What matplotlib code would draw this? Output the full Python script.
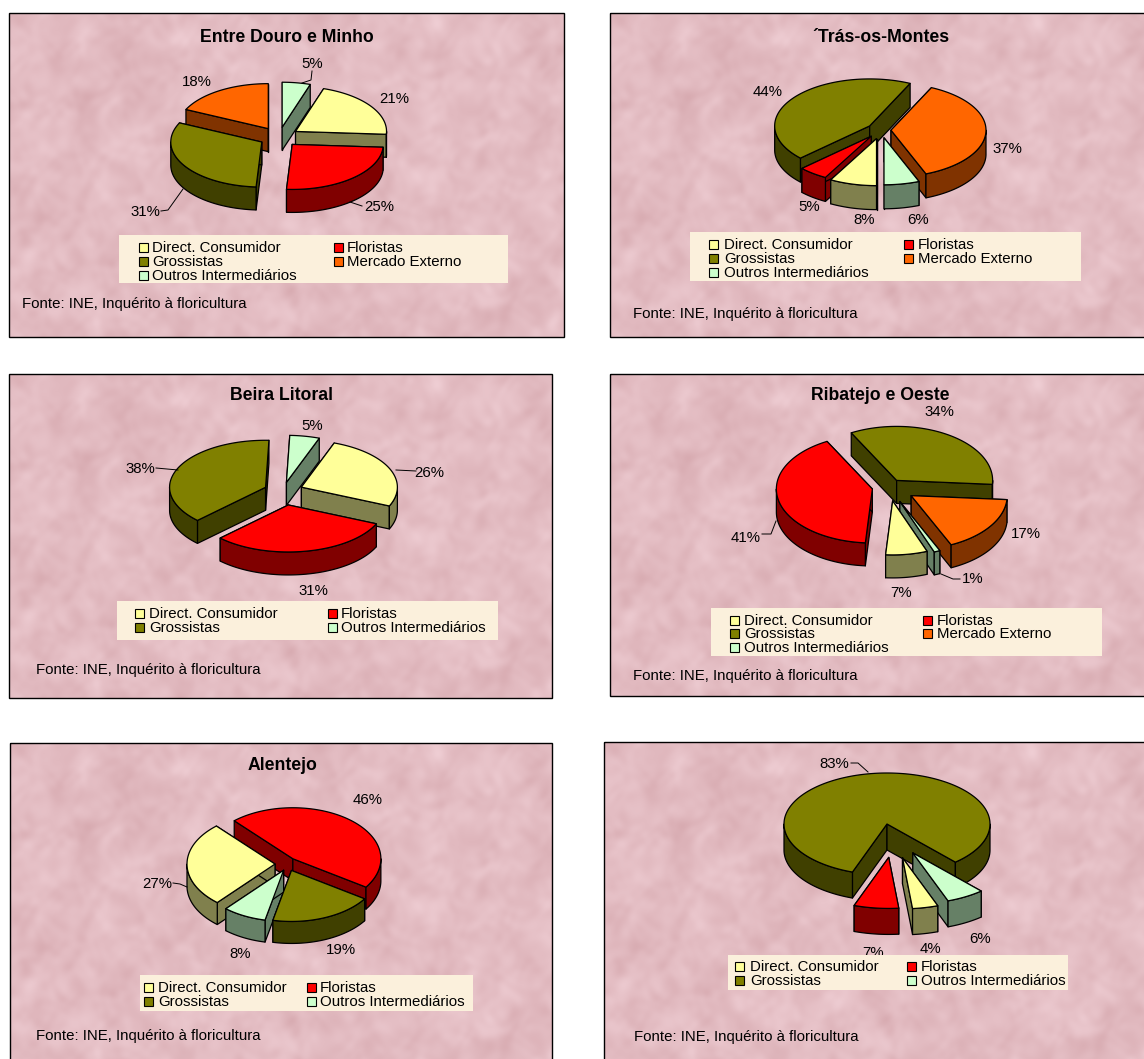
#!/usr/bin/env python3
import numpy as np
import matplotlib
matplotlib.use("Agg")
import matplotlib.pyplot as plt
from matplotlib.patches import Polygon, Rectangle

plt.rcParams["font.family"] = ["Liberation Sans", "DejaVu Sans"]

# categories
DIRECT, FLOR, GROS, MERC, OUTROS = (
    "Direct. Consumidor", "Floristas", "Grossistas", "Mercado Externo", "Outros Intermediários",
)
TOP_C = {DIRECT: "#FFFF99", FLOR: "#FF0000", GROS: "#808000", MERC: "#FF6600", OUTROS: "#CCFFCC"}
WALL_C = {DIRECT: "#80804D", FLOR: "#800000", GROS: "#404000", MERC: "#803300", OUTROS: "#668066"}

CATS_5 = [DIRECT, FLOR, GROS, MERC, OUTROS]
CATS_4 = [DIRECT, FLOR, GROS, OUTROS]

# percentagens
VALS_MINHO = [21, 25, 31, 18, 5]
VALS_TRAS = [8, 5, 44, 37, 6]
VALS_BEIRA = [26, 31, 38, 5]
VALS_RIBATEJO = [7, 41, 34, 17, 1]
VALS_ALENTEJO = [27, 46, 19, 8]
VALS_ALGARVE = [4, 7, 83, 6]

SOURCE = "Fonte: INE, Inquérito à floricultura"

# layout em pixels da imagem
PANELS = [
    dict(title="Entre Douro e Minho", cats=CATS_5, vals=VALS_MINHO, box=(9, 13, 564, 337),
         title_xy=(287, 36), start=18, c=(279, 137), rx=91, ry=45, depth=23,
         explode=[20, 20, 20, 20, 20],
         lab=[(394, 98), (379, 206), (145, 211), (197, 81), (312, 63)],
         lead=[[(312, 71), (311, 80), (302, 83)], [(362, 206), (350, 202)], [(161, 211), (168, 210), (183, 189)]],
         leg=(119, 235, 508, 283), mx=(139, 334), tx=(152, 347), rows=(247, 261, 275), src=(22, 303)),
    dict(title="´Trás-os-Montes", cats=CATS_5, vals=VALS_TRAS, box=(610, 13, 1150, 337),
         title_xy=(881, 36), start=180, c=(881, 130), rx=95, ry=47, depth=24,
         explode=[18, 16, 14, 10, 16],
         lab=[(864, 219), (809, 206), (768, 91), (1007, 148), (918, 219)],
         lead=[],
         leg=(690, 232, 1081, 281), mx=(709, 904), tx=(724, 918), rows=(244, 258, 272), src=(633, 313)),
    dict(title="Beira Litoral", cats=CATS_4, vals=VALS_BEIRA, box=(9, 374, 552, 698),
         title_xy=(281, 395), start=20, c=(283, 491), rx=96, ry=47, depth=23,
         explode=[20, 29, 19, 18],
         lab=[(429, 472), (313, 590), (140, 468), (312, 425)],
         lead=[[(416, 471), (396, 470)], [(156, 468), (178, 470)]],
         leg=(117, 601, 498, 640), mx=(135, 328), tx=(149, 341), rows=(613, 627), src=(36, 669)),
    dict(title="Ribatejo e Oeste", cats=CATS_5, vals=VALS_RIBATEJO, box=(610, 374, 1150, 696),
         title_xy=(880, 395), start=159, c=(889, 487), rx=96, ry=54, depth=23,
         explode=[25, 17, 14, 27, 28],
         lab=[(901, 592), (746, 537), (939, 411), (1026, 533), (973, 578)],
         lead=[[(762, 534), (771, 534), (776, 521)], [(960, 579), (953, 579), (941, 574)]],
         leg=(711, 608, 1102, 656), mx=(730, 923), tx=(744, 937), rows=(620, 633, 647), src=(633, 675)),
    dict(title="Alentejo", cats=CATS_4, vals=VALS_ALENTEJO, box=(10, 743, 552, 1070),
         title_xy=(282, 764), start=221, c=(285, 864), rx=88, ry=51, depth=22,
         explode=[10, 12, 12, 12], nudge=[0, 0, 2, 4],
         lab=[(157, 883), (368, 799), (341, 949), (240, 953)],
         lead=[[(173, 883), (180, 884), (187, 887)]],
         leg=(140, 975, 473, 1011), mx=(144, 307), tx=(158, 320), rows=(987, 1001), src=(36, 1035)),
    dict(title=None, cats=CATS_4, vals=VALS_ALGARVE, box=(604, 742, 1150, 1070),
         title_xy=None, start=160, c=(887, 824), rx=103, ry=51, depth=26,
         explode=[70, 68, 0, 68], nudge=[0, 10, 0, -9],
         lab=[(930, 948), (873, 952), (834, 763), (980, 938)],
         lead=[[(851, 763), (858, 763), (868, 772)]],
         leg=(728, 955, 1068, 990), mx=(735, 907), tx=(750, 921), rows=(966, 980), src=(634, 1036)),
]


def texture(w, h):
    # papel rosado: soma de senos deformados, sem aleatorio
    yy, xx = np.mgrid[0:h, 0:w].astype(float)
    v = np.zeros_like(xx)
    for i in range(26):
        f = 0.02 * 1.11 ** i
        ang = i * 2.399
        warp = (2.6 * np.sin(0.0137 * (1 + 0.31 * i) * xx + 1.7 * np.sin(0.019 * yy + i))
                + 2.6 * np.cos(0.0171 * (1 + 0.23 * i) * yy + 1.7 * np.cos(0.023 * xx + 2 * i)))
        v += np.sin(f * (xx * np.cos(ang) + yy * np.sin(ang)) + warp + i) / (1 + 0.04 * i)
    v /= v.std()
    base = np.array([227, 188, 194]) / 255
    img = base[None, None, :] + v[..., None] * np.array([0.012, 0.018, 0.018])
    return np.clip(img, 0, 1)


def rim(p, a, b):
    t = np.radians(np.linspace(a, b, max(3, int(abs(b - a)) + 1)))
    return np.column_stack((p["ax"] + p["rx"] * np.sin(t), p["ay"] - p["ry"] * np.cos(t)))


def draw_slice(ax, apex, p, a, b, cat, z):
    q = dict(ax=apex[0], ay=apex[1], rx=p["rx"], ry=p["ry"])
    d = np.array([0, p["depth"]])
    kw = dict(ec="black", lw=0.9, joinstyle="round", zorder=z)
    # faces radiais
    for ang in (a, b):
        e = rim(q, ang, ang)[0]
        ax.add_patch(Polygon([apex, e, e + d, np.array(apex) + d], fc=WALL_C[cat], **kw))
    # parede exterior, so a parte virada para a frente
    for lo, hi in ((90, 270), (450, 630)):
        s, t = max(a, lo), min(b, hi)
        if t > s:
            arc = rim(q, s, t)
            ax.add_patch(Polygon(np.vstack((arc, arc[::-1] + d)), fc=WALL_C[cat], **kw))
    top = np.vstack(([apex], rim(q, a, b)))
    ax.add_patch(Polygon(top, fc=TOP_C[cat], **kw))


def draw_pie(ax, p):
    ang = p["start"]
    slices = []
    nudge = p.get("nudge", [0] * len(p["vals"]))
    for v, cat, e, dx in zip(p["vals"], p["cats"], p["explode"], nudge):
        a, b = ang, ang + v * 3.6
        mid = np.radians((a + b) / 2)
        apex = (p["c"][0] + e * np.sin(mid) + dx, p["c"][1] - e * p["ry"] / p["rx"] * np.cos(mid))
        slices.append((apex[1] - 0.5 * p["ry"] * np.cos(mid), apex, a, b, cat))
        ang = b
    for i, (_, apex, a, b, cat) in enumerate(sorted(slices, key=lambda s: s[0])):
        draw_slice(ax, apex, p, a, b, cat, 3 + i * 0.1)


fig = plt.figure(figsize=(11.44, 10.59), dpi=100, facecolor="white")
ax = fig.add_axes([0, 0, 1, 1])
ax.set_xlim(0, 1144)
ax.set_ylim(1059, 0)
ax.axis("off")

tex = texture(560, 340)
FS = 10.8
TY = 1  # o texto fica um pouco mais abaixo

for p in PANELS:
    x0, y0, x1, y1 = p["box"]
    ax.imshow(tex[: y1 - y0, : x1 - x0], extent=(x0, x1, y1, y0), zorder=1, aspect="auto", interpolation="bilinear")
    ax.add_patch(Rectangle((x0, y0), x1 - x0, y1 - y0, fc="none", ec="black", lw=1.0, zorder=2))
    if p["title"]:
        tx, ty = p["title_xy"]
        ax.text(tx, ty + TY, p["title"], fontsize=12.7, fontweight="bold", ha="center", va="center", zorder=6)
    draw_pie(ax, p)
    for v, (lx, ly) in zip(p["vals"], p["lab"]):
        ax.text(lx, ly + TY, f"{v}%", fontsize=FS, ha="center", va="center", zorder=5)
    for pts in p["lead"]:
        ax.plot(*zip(*pts), color="black", lw=0.7, zorder=5)
    # legenda
    lx0, ly0, lx1, ly1 = p["leg"]
    ax.add_patch(Rectangle((lx0, ly0), lx1 - lx0, ly1 - ly0, fc="#FBF0DC", ec="none", zorder=7))
    for i, cat in enumerate(p["cats"]):
        row, col = i // 2, i % 2
        y = p["rows"][row]
        ax.add_patch(Rectangle((p["mx"][col], y - 4.5), 9, 9, fc=TOP_C[cat], ec="black", lw=0.8, zorder=8))
        ax.text(p["tx"][col], y + TY, cat, fontsize=FS, ha="left", va="center", zorder=8)
    sx, sy = p["src"]
    ax.text(sx, sy + TY, SOURCE, fontsize=FS, ha="left", va="center", zorder=6)

ax.set_xlim(0, 1144)
ax.set_ylim(1059, 0)
fig.savefig("out.png", dpi=100)
